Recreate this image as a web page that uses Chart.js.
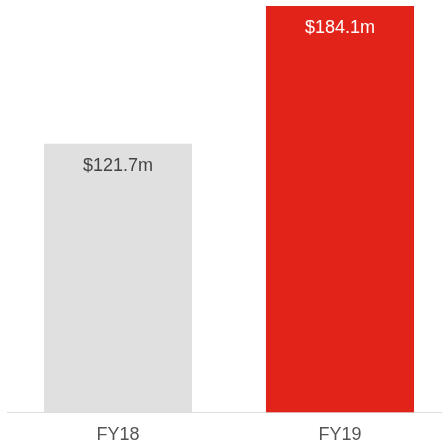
<!DOCTYPE html>
<html>
<head>
<meta charset="utf-8">
<script src="https://cdn.jsdelivr.net/npm/chart.js@4"></script>
<style>
  html, body { margin: 0; padding: 0; overflow: hidden; background: #fff; width: 442px; height: 443px; }
  #wrap { width: 451px; height: 458px; position: relative; }
</style>
</head>
<body>
<div id="wrap"><canvas id="revChart"></canvas></div>
<script>
var categories = ["FY18", "FY19"];
var revenue = [121.7, 184.1];
var valueLabels = ["$121.7m", "$184.1m"];
var barColors = ["#e0e0e0", "#e2231a"];
var labelColors = ["#444444", "#ffffff"];

// write the value inside the top of each bar
var valueLabelPlugin = {
  id: "valueLabels",
  afterDatasetsDraw: function(chart) {
    var ctx = chart.ctx;
    var meta = chart.getDatasetMeta(0);
    ctx.save();
    ctx.font = "18px 'Liberation Sans', Arial, sans-serif";
    ctx.textAlign = "center";
    ctx.textBaseline = "middle";
    meta.data.forEach(function(bar, i) {
      ctx.fillStyle = labelColors[i];
      ctx.fillText(valueLabels[i], bar.x, bar.y + 22);
    });
    ctx.restore();
  }
};

var ctx = document.getElementById("revChart").getContext("2d");
var revChart = new Chart(ctx, {
  type: "bar",
  data: {
    labels: categories,
    datasets: [{
      data: revenue,
      backgroundColor: barColors,
      borderWidth: 0,
      categoryPercentage: 1,
      barPercentage: 0.667
    }]
  },
  options: {
    responsive: true,
    maintainAspectRatio: false,
    animation: false,
    layout: { padding: { top: 6, left: 7, right: 0, bottom: 0 } },
    plugins: { legend: { display: false }, tooltip: { enabled: false } },
    scales: {
      x: {
        grid: { display: false, drawTicks: false },
        border: { display: true, color: "#dddddd", width: 1 },
        ticks: {
          color: "#555555",
          padding: 12,
          font: { family: "'Liberation Sans', Arial, sans-serif", size: 18 }
        }
      },
      y: {
        display: false,
        min: 0,
        max: 184.1
      }
    }
  },
  plugins: [valueLabelPlugin]
});
</script>
</body>
</html>
